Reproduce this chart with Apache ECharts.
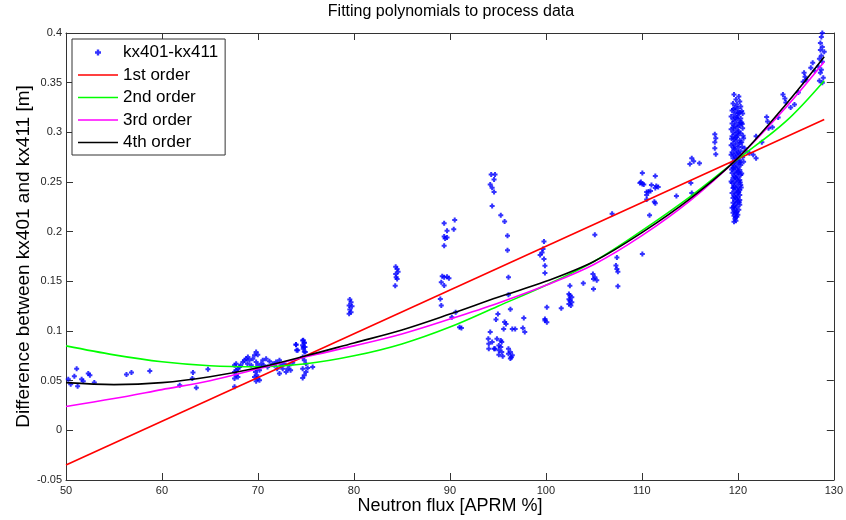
<!DOCTYPE html>
<html>
<head>
<meta charset="utf-8">
<script src="https://cdn.jsdelivr.net/npm/echarts@6/dist/echarts.min.js"></script>
<style>
html,body{margin:0;padding:0;background:#fff;}
#chart{width:846px;height:520px;}
</style>
</head>
<body>
<div id="chart"></div>
<script>
// ---- data ----
const xTicks = [50, 60, 70, 80, 90, 100, 110, 120, 130];
const yTicks = [-0.05, 0, 0.05, 0.1, 0.15, 0.2, 0.25, 0.3, 0.35, 0.4];
const seriesNames = ['kx401-kx411', '1st order', '2nd order', '3rd order', '4th order'];

// measured points (x = APRM %, y = difference [m])
const measuredLow = [
  [50.24,0.0514],[50.49,0.0465],[50.87,0.0545],[51.11,0.0621],[51.21,0.0444],[51.63,0.0514],
  [51.8,0.0494],[52.32,0.0571],[52.49,0.0554],[52.95,0.0481],[56.3,0.0561],[56.82,0.0581],
  [58.73,0.0598],[61.85,0.0454],[63.23,0.0581],[63.58,0.0428],[63.16,0.0521],[64.79,0.0615]
];
const measured70 = [
  [67.56,0.0655],[67.73,0.0671],[67.91,0.0621],[67.56,0.0588],[67.73,0.0554],[67.91,0.0538],
  [67.56,0.0521],[67.73,0.0605],[67.56,0.0438],[68.08,0.0638],[68.43,0.0688],[68.6,0.0705],
  [68.77,0.0721],[68.95,0.0738],[69.12,0.0705],[69.46,0.0721],[69.64,0.0755],[69.81,0.0788],
  [69.98,0.0761],[69.81,0.0688],[69.98,0.0655],[69.81,0.0621],[69.74,0.0588],[69.88,0.0554],
  [69.98,0.0521],[69.81,0.0494],[70.16,0.0504],[69.64,0.0538],[70.16,0.0605],[70.33,0.0671],
  [70.5,0.0705],[70.85,0.0721],[71.2,0.0695],[71.54,0.0671],[71.72,0.0655],[71.89,0.0688],
  [72.24,0.0705],[72.41,0.0655],[72.58,0.0621],[72.75,0.0671],[72.93,0.0588],[73.1,0.0621],
  [72.24,0.0571],[73.27,0.0655],[73.62,0.0681],[73.97,0.0862],[74.14,0.0805],[74.66,0.0905],
  [74.83,0.0882],[74.73,0.0838],[74.94,0.0788],[74.66,0.0738],[74.83,0.0705],[75.0,0.0671],
  [74.66,0.0621],[75.0,0.0588],[74.83,0.0554],[74.66,0.0528],[75.7,0.0638],[75.18,0.0628],
  [74.72,0.0906],[74.83,0.0882],[74.65,0.0856],[74.9,0.0839],[74.72,0.0822],[73.96,0.0863],
  [74.03,0.0806],[74.83,0.079],[68.2,0.0655],[68.9,0.0671],[70.6,0.0655],[71.0,0.0638],
  [69.3,0.0654],[73.4,0.0605],[72.0,0.0621]
];
const measured80to91 = [
  [79.57,0.1316],[79.7,0.129],[79.5,0.1256],[79.8,0.125],[79.57,0.1216],[79.7,0.119],[79.5,0.1173],
  [84.35,0.1647],[84.5,0.1623],[84.6,0.1597],[84.35,0.1574],[84.4,0.154],[84.5,0.1523],[84.3,0.1456],
  [89.4,0.2085],[90.5,0.2118],[90.4,0.2025],[89.7,0.2008],[89.4,0.1951],[89.5,0.1931],[89.7,0.1941],
  [89.4,0.1858],[89.2,0.155],[89.4,0.154],[89.7,0.1547],[89.9,0.153],[89.1,0.149],[89.4,0.1457],
  [89.0,0.1323],[89.1,0.1256],[90.6,0.1189],[90.2,0.1139],[91.0,0.1039],[91.2,0.1029]
];
const measured95 = [
  [94.3,0.2576],[94.7,0.2576],[94.6,0.2525],[94.2,0.2475],[94.4,0.2442],[94.6,0.2399],[94.4,0.2258],
  [95.3,0.2165],[95.7,0.2102],[96.0,0.1958],[96.0,0.1814],[96.1,0.154],[96.1,0.1364],[96.3,0.122],
  [95.0,0.117],[94.8,0.1115],[95.7,0.109],[95.85,0.107],[95.6,0.102],[96.5,0.102],[96.8,0.102],
  [97.7,0.113],[97.6,0.103],[97.8,0.099],[94.2,0.0989],[94.0,0.0922],[94.4,0.0889],[94.05,0.0872],
  [94.9,0.0922],[95.3,0.0905],[95.4,0.0889],[94.7,0.0822],[95.1,0.0805],[95.3,0.0839],[95.4,0.0789],
  [94.05,0.0822],[94.6,0.0822],[95.1,0.0762],[96.1,0.0822],[96.3,0.0789],[96.5,0.0755],[96.3,0.0722],
  [96.1,0.0772],[95.1,0.0855],[95.5,0.0745],[96.4,0.0735]
];
const measured100to118 = [
  [99.8,0.19],[99.7,0.1825],[99.6,0.1791],[99.4,0.1764],[99.8,0.1724],[99.9,0.1657],[99.9,0.1584],
  [100.1,0.124],[99.9,0.112],[100.1,0.1089],[99.9,0.1106],[101.6,0.123],
  [102.5,0.1456],[102.4,0.1373],[102.5,0.1357],[102.7,0.134],[102.4,0.132],[102.5,0.1306],
  [102.7,0.129],[102.4,0.1273],[102.6,0.1256],
  [103.9,0.148],[104.9,0.1574],[104.96,0.1523],[105.1,0.154],[105.3,0.151],[104.96,0.1423],[105.1,0.197],
  [106.9,0.218],[107.4,0.174],[107.3,0.166],[107.4,0.1623],[107.5,0.1597],[107.5,0.145],
  [110.05,0.259],[109.8,0.249],[110.05,0.248],[110.2,0.2475],[109.9,0.25],[111.4,0.256],[111.0,0.247],
  [111.5,0.246],[111.7,0.245],[111.4,0.244],[110.7,0.2405],[110.5,0.24],[110.9,0.241],[110.5,0.237],
  [111.3,0.23],[111.4,0.2285],[110.8,0.2165],[110.05,0.1774],[110.5,0.2325],
  [113.6,0.236],[115.2,0.274],[115.4,0.271],[115.0,0.268],[116.0,0.269],[115.1,0.249],[115.2,0.239],
  [117.6,0.298],[117.7,0.294],[117.6,0.29],[117.6,0.284],[117.7,0.278]
];
const measured120 = [
  [119.6,0.338],[120.1,0.336],[119.8,0.333],[120.2,0.331],[119.5,0.329],[119.9,0.328],[120.3,0.326],
  [119.7,0.325],[120.0,0.324],[119.4,0.322],[119.8,0.321],[120.2,0.32],[120.5,0.319],[119.6,0.318],
  [120.0,0.317],[119.3,0.316],[119.9,0.315],[120.3,0.314],[119.5,0.313],[120.1,0.312],[119.7,0.311],
  [120.4,0.31],[119.4,0.309],[119.9,0.308],[120.2,0.307],[119.6,0.306],[120.0,0.305],[120.5,0.304],
  [119.3,0.303],[119.8,0.302],[120.1,0.301],[119.5,0.3],[120.3,0.299],[119.7,0.298],[120.0,0.297],
  [119.4,0.296],[119.9,0.295],[120.6,0.294],[119.6,0.293],[120.2,0.292],[119.8,0.291],[120.4,0.29],
  [119.5,0.289],[120.0,0.288],[119.3,0.287],[119.7,0.286],[120.1,0.285],[120.7,0.284],[119.6,0.283],
  [119.9,0.282],[120.3,0.281],[119.4,0.28],[119.8,0.279],[120.2,0.278],[119.6,0.277],[120.0,0.276],
  [120.5,0.275],[119.5,0.274],[119.9,0.273],[120.2,0.272],[119.7,0.271],[120.1,0.27],[119.4,0.269],
  [119.8,0.268],[120.3,0.267],[119.6,0.266],[120.0,0.265],[119.5,0.264],[119.9,0.263],[120.2,0.262],
  [119.7,0.261],[120.1,0.26],[119.4,0.259],[119.8,0.258],[120.3,0.257],[119.6,0.256],[120.0,0.255],
  [119.5,0.254],[119.9,0.253],[120.2,0.252],[119.7,0.251],[120.1,0.25],[119.4,0.249],[119.8,0.248],
  [120.3,0.247],[119.6,0.246],[120.0,0.245],[119.5,0.244],[119.9,0.243],[120.2,0.242],[119.7,0.241],
  [120.1,0.24],[119.4,0.239],[119.8,0.238],[120.2,0.237],[119.6,0.236],[120.0,0.235],[119.5,0.234],
  [119.9,0.233],[120.2,0.232],[119.7,0.231],[120.0,0.23],[119.5,0.229],[119.8,0.228],[120.2,0.227],
  [119.6,0.226],[119.9,0.225],[119.4,0.224],[119.7,0.223],[120.1,0.222],[119.6,0.221],[119.9,0.22],
  [119.5,0.219],[119.8,0.218],[120.0,0.217],[119.6,0.216],[119.9,0.215],[119.7,0.213],[119.8,0.211],
  [119.6,0.21],[120.4,0.3215],[120.45,0.3085],[120.55,0.2965],[120.45,0.2855],[120.6,0.2705],
  [119.35,0.2935],[119.3,0.2775],[119.35,0.2625],[119.3,0.2505],[120.4,0.2585],[120.35,0.2445],
  [119.55,0.3235],[120.05,0.3195],[119.75,0.3145],[120.25,0.3095],[119.55,0.3045],[120.05,0.2995],
  [119.75,0.2945],[120.25,0.2895],[119.55,0.2845],[120.05,0.2795],[119.75,0.2745],[120.25,0.2695],
  [119.55,0.2645],[120.05,0.2595],[119.75,0.2545],[120.25,0.2495],[119.55,0.2445],[120.05,0.2395],
  [119.75,0.2345],[120.15,0.2295],[119.55,0.2245],[119.85,0.2195],[119.75,0.2145]
];
const measuredHigh = [
  [120.8,0.281],[121.2,0.279],[121.6,0.2775],[121.9,0.274],[121.9,0.296],[122.5,0.29],[123.0,0.3155],
  [123.1,0.311],[123.2,0.304],[123.6,0.305],[124.2,0.315],[124.7,0.338],[124.9,0.334],[125.0,0.33],
  [125.5,0.325],[125.9,0.328],[126.3,0.34],[126.9,0.36],[127.0,0.356],[126.8,0.351],[127.1,0.353],
  [127.6,0.365],[127.8,0.37],[128.0,0.362],[128.8,0.4],[128.7,0.396],[128.6,0.39],[128.8,0.386],
  [128.6,0.383],[129.0,0.381],[128.7,0.377],[128.5,0.374],[128.8,0.371],[128.4,0.366],[128.7,0.363],
  [128.6,0.36],[128.9,0.355],[128.5,0.352],[128.8,0.35]
];

// fitted curves
const fit1 = [[50,-0.035],[129,0.313]];
const fit2 = [[50,0.085],[55,0.076],[60,0.069],[65,0.065],[70,0.064],[75,0.067],[80,0.075],[85,0.087],
  [90,0.104],[95,0.125],[100,0.146],[105,0.170],[110,0.201],[115,0.235],[120,0.273],[125,0.311],[129,0.352]];
const fit3 = [[50,0.024],[55,0.032],[60,0.041],[65,0.050],[70,0.062],[75,0.074],[80,0.085],[85,0.097],
  [90,0.112],[95,0.128],[100,0.146],[105,0.167],[110,0.196],[115,0.231],[120,0.274],[125,0.325],[129,0.371]];
const fit4 = [[50,0.048],[55,0.046],[60,0.048],[65,0.054],[70,0.063],[75,0.075],[80,0.088],[85,0.101],
  [90,0.117],[95,0.134],[100,0.150],[105,0.170],[110,0.199],[115,0.233],[120,0.274],[125,0.328],[129,0.376]];

const measured = [].concat(measuredLow, measured70, measured80to91, measured95, measured100to118, measured120, measuredHigh);

// ---- chart ----
const FONT = '"Liberation Sans", Arial, Helvetica, sans-serif';
const AX = '#333';
const chart = echarts.init(document.getElementById('chart'), null, {renderer: 'canvas'});
const fmt = v => String(Math.round(v * 100) / 100);
function xAx(pos, main) {
  return {
    type: 'value', position: pos, min: xTicks[0], max: xTicks[xTicks.length - 1], interval: 10,
    axisLine: {show: true, onZero: false, lineStyle: {color: AX, width: 1}},
    axisTick: {show: true, inside: true, length: 7, lineStyle: {color: AX}},
    axisLabel: {show: main, margin: 5, fontSize: 11, color: '#262626', fontFamily: FONT, formatter: fmt},
    splitLine: {show: false},
    name: main ? 'Neutron flux [APRM %]' : '', nameLocation: 'middle', nameGap: 17, nameMoveOverlap: false,
    nameTextStyle: {fontSize: 18, color: '#000', fontFamily: FONT}
  };
}
function yAx(pos, main) {
  return {
    type: 'value', position: pos, min: yTicks[0], max: yTicks[yTicks.length - 1], interval: 0.05,
    axisLine: {show: true, onZero: false, lineStyle: {color: AX, width: 1}},
    axisTick: {show: true, inside: true, length: 7, lineStyle: {color: AX}},
    axisLabel: {show: main, margin: 4, fontSize: 11, color: '#262626', fontFamily: FONT, formatter: fmt},
    splitLine: {show: false},
    name: main ? 'Difference between kx401 and kx411 [m]' : '', nameLocation: 'middle', nameGap: 33,
    nameMoveOverlap: false,
    nameTextStyle: {fontSize: 19, color: '#000', fontFamily: FONT}
  };
}
const plusPath = 'path://M1.5,0H3.5V1.5H5V3.5H3.5V5H1.5V3.5H0V1.5H1.5Z';
const lineIcon = 'path://M0,0H80V3H0Z';
const lineSeries = (name, data, color) => ({
  name, type: 'line', data, smooth: 0.35, symbol: 'none', showSymbol: false,
  lineStyle: {color, width: 1.6}, itemStyle: {color}, animation: false, z: 3
});
chart.setOption({
  animation: false,
  backgroundColor: '#fff',
  title: {
    text: 'Fitting polynomials to process data', left: 451, top: 4, textAlign: 'center', padding: 0,
    textStyle: {fontSize: 16, fontWeight: 'normal', color: '#000', fontFamily: FONT}
  },
  grid: {left: 66, right: 10, top: 33, bottom: 38},
  xAxis: [xAx('bottom', true), xAx('top', false)],
  yAxis: [yAx('left', true), yAx('right', false)],
  legend: {
    orient: 'vertical', left: 72, top: 39, padding: [4, 7, 3, 6], itemGap: 3.5,
    itemWidth: 40, itemHeight: 6, backgroundColor: '#fff', borderColor: '#333', borderWidth: 1,
    selectedMode: false,
    data: [
      {name: seriesNames[0], icon: plusPath},
      {name: seriesNames[1], icon: lineIcon},
      {name: seriesNames[2], icon: lineIcon},
      {name: seriesNames[3], icon: lineIcon},
      {name: seriesNames[4], icon: lineIcon}
    ],
    textStyle: {fontSize: 17, lineHeight: 19, color: '#000', fontFamily: FONT}
  },
  series: [
    {name: seriesNames[0], type: 'scatter', data: measured, symbol: plusPath, symbolSize: 5,
     itemStyle: {color: '#0000ff'}, animation: false, z: 2},
    lineSeries(seriesNames[1], fit1, '#ff0000'),
    lineSeries(seriesNames[2], fit2, '#00ff00'),
    lineSeries(seriesNames[3], fit3, '#ff00ff'),
    lineSeries(seriesNames[4], fit4, '#000000')
  ]
});
</script>
</body>
</html>
